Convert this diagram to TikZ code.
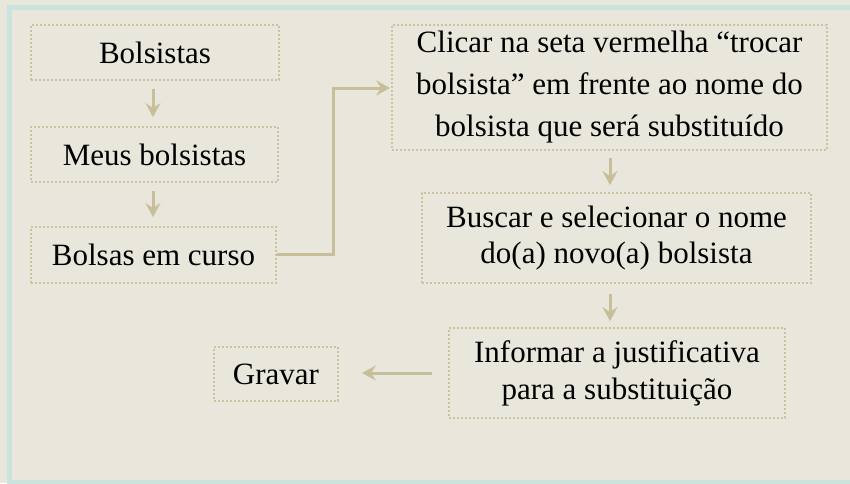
\documentclass[tikz,border=0pt]{standalone}
\usepackage{fontspec}
\setmainfont{Liberation Serif}
\usetikzlibrary{arrows.meta}
\definecolor{bgc}{HTML}{E9E7DB}
\definecolor{tealc}{HTML}{C8E4DC}
\definecolor{linec}{HTML}{C7BF9A}
\definecolor{dotc}{HTML}{CCC39E}
\tikzset{
  stepbox/.style={draw=dotc, line width=1.8pt, dash pattern=on 1.8pt off 2.2pt,
    align=center, inner sep=0pt, font=\fontsize{31}{40}\selectfont, text=black},
  conn/.style={draw=linec, line width=3pt,
    -{Stealth[length=14pt,width=15pt,inset=5pt]}},
}
\begin{document}
\begin{tikzpicture}[x=1pt,y=-1pt]
\fill[bgc] (0,0) rectangle (850,483);
\useasboundingbox (0,0) rectangle (850,483);
\draw[tealc, line width=5pt] (860,7.5) -- (9.5,7.5) -- (9.5,482) -- (860,482);

\node[stepbox, minimum width=248pt, minimum height=55pt] (b1) at (155,52.5) {Bolsistas};
\node[stepbox, minimum width=247pt, minimum height=55pt] (b2) at (154.5,154.5) {Meus bolsistas};
\node[stepbox, minimum width=245pt, minimum height=56pt] (b3) at (153.5,255) {Bolsas em curso};
\node[stepbox, minimum width=435pt, minimum height=125pt, font=\fontsize{31}{42}\selectfont] (c1) at (609.5,87.5)
  {Clicar na seta vermelha “trocar\\bolsista” em frente ao nome do\\bolsista que será substituído};
\node[stepbox, minimum width=389pt, minimum height=90pt, font=\fontsize{31}{36}\selectfont] (c2) at (616.5,238)
  {Buscar e selecionar o nome\\do(a) novo(a) bolsista};
\node[stepbox, minimum width=336pt, minimum height=90pt, font=\fontsize{31}{37}\selectfont] (c3) at (617,373)
  {Informar a justificativa\\para a substituição};
\node[stepbox, minimum width=124pt, minimum height=54pt] (g) at (276,374) {Gravar};

\coordinate (x1) at (153,0);
\coordinate (x2) at (610,0);
\draw[conn, shorten <=8pt, shorten >=9pt] (b1.south -| x1) -- (b2.north -| x1);
\draw[conn, shorten <=8pt, shorten >=9pt] (b2.south -| x1) -- (b3.north -| x1);
\coordinate (k1) at (333,254);
\coordinate (k2) at (333,88);
\draw[conn, shorten >=1pt] (b3.east |- k1) -- (k1) -- (k2) -- (c1.west |- k2);
\draw[conn, shorten <=7pt, shorten >=7pt] (c1.south -| x2) -- (c2.north -| x2);
\draw[conn, shorten <=10pt, shorten >=6pt] (c2.south -| x2) -- (c3.north -| x2);
\coordinate (y1) at (0,373);
\draw[conn, shorten <=16pt, shorten >=23pt] (c3.west |- y1) -- (g.east |- y1);
\end{tikzpicture}
\end{document}
